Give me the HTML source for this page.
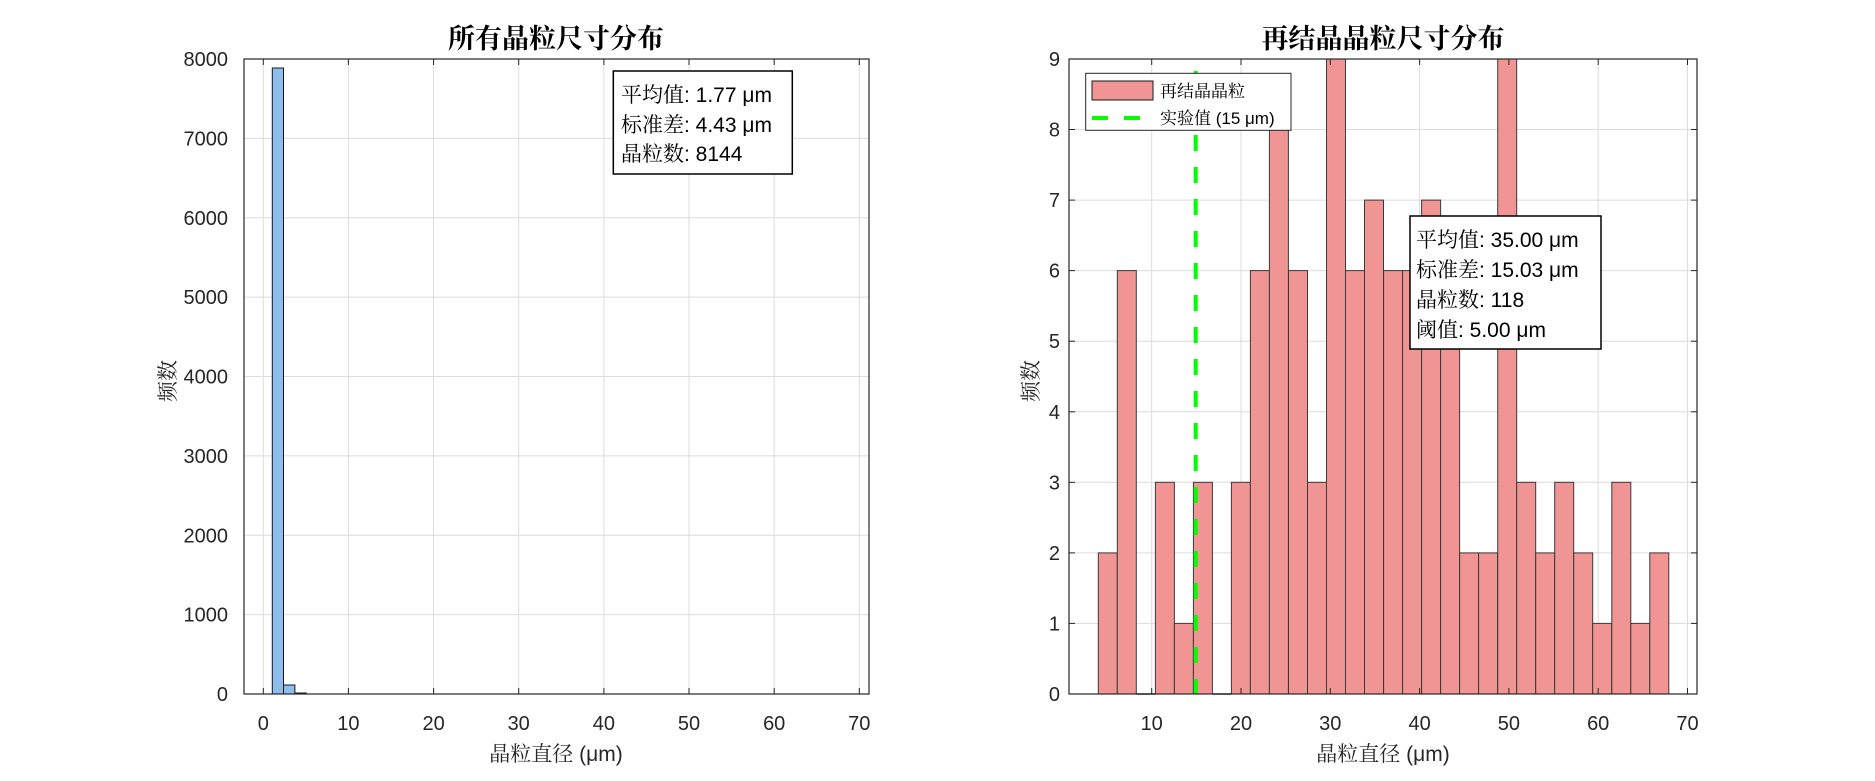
<!DOCTYPE html>
<html><head><meta charset="utf-8"><style>
html,body{margin:0;padding:0;background:#fff;}
svg{display:block;}
text{font-family:"Liberation Sans","Noto Sans CJK SC",sans-serif;fill:#262626;}
.t{font-family:"Liberation Serif","Noto Serif CJK SC",serif;font-weight:bold;fill:#000;font-size:27px;}
.tk{font-size:20px;}
.lb{font-size:21px;font-family:"Liberation Sans","Noto Serif CJK SC",serif;}
.bx{font-size:21px;fill:#000;font-family:"Liberation Sans","Noto Serif CJK SC",serif;}
.lg{font-size:17px;font-family:"Liberation Sans","Noto Serif CJK SC",serif;fill:#000;}
</style></head><body>
<svg width="1875" height="781" viewBox="0 0 1875 781" xmlns="http://www.w3.org/2000/svg">
<rect width="1875" height="781" fill="#fff"/>
<!-- LEFT -->
<g stroke="#dcdcdc" stroke-width="1">
<line x1="263.3" y1="59" x2="263.3" y2="694"/><line x1="348.4" y1="59" x2="348.4" y2="694"/><line x1="433.6" y1="59" x2="433.6" y2="694"/><line x1="518.7" y1="59" x2="518.7" y2="694"/><line x1="603.9" y1="59" x2="603.9" y2="694"/><line x1="689" y1="59" x2="689" y2="694"/><line x1="774.2" y1="59" x2="774.2" y2="694"/><line x1="859.3" y1="59" x2="859.3" y2="694"/>
<line x1="244" y1="614.6" x2="869" y2="614.6"/><line x1="244" y1="535.3" x2="869" y2="535.3"/><line x1="244" y1="455.9" x2="869" y2="455.9"/><line x1="244" y1="376.5" x2="869" y2="376.5"/><line x1="244" y1="297.1" x2="869" y2="297.1"/><line x1="244" y1="217.8" x2="869" y2="217.8"/><line x1="244" y1="138.4" x2="869" y2="138.4"/>
</g>
<g fill="#8fbdec" stroke="#1a1a1a" stroke-width="1">
<rect x="272.3" y="68" width="11.2" height="626"/>
<rect x="283.5" y="685" width="11.4" height="9"/>
<rect x="294.9" y="693" width="11.4" height="1"/>
</g>
<g stroke="#555" stroke-width="1"><line x1="306" y1="694" x2="840" y2="694"/></g>
<rect x="244" y="59" width="625" height="635" fill="none" stroke="#262626" stroke-width="1.2"/>
<g stroke="#262626" stroke-width="1">
<line x1="263.3" y1="694" x2="263.3" y2="688"/><line x1="348.4" y1="694" x2="348.4" y2="688"/><line x1="433.6" y1="694" x2="433.6" y2="688"/><line x1="518.7" y1="694" x2="518.7" y2="688"/><line x1="603.9" y1="694" x2="603.9" y2="688"/><line x1="689" y1="694" x2="689" y2="688"/><line x1="774.2" y1="694" x2="774.2" y2="688"/><line x1="859.3" y1="694" x2="859.3" y2="688"/>
<line x1="263.3" y1="59" x2="263.3" y2="65"/><line x1="348.4" y1="59" x2="348.4" y2="65"/><line x1="433.6" y1="59" x2="433.6" y2="65"/><line x1="518.7" y1="59" x2="518.7" y2="65"/><line x1="603.9" y1="59" x2="603.9" y2="65"/><line x1="689" y1="59" x2="689" y2="65"/><line x1="774.2" y1="59" x2="774.2" y2="65"/><line x1="859.3" y1="59" x2="859.3" y2="65"/>
</g>
<g class="tk" text-anchor="end">
<text x="228" y="701">0</text><text x="228" y="621.6">1000</text><text x="228" y="542.3">2000</text><text x="228" y="462.9">3000</text><text x="228" y="383.5">4000</text><text x="228" y="304.1">5000</text><text x="228" y="224.8">6000</text><text x="228" y="145.4">7000</text><text x="228" y="66">8000</text>
</g>
<g class="tk" text-anchor="middle">
<text x="263.3" y="730">0</text><text x="348.4" y="730">10</text><text x="433.6" y="730">20</text><text x="518.7" y="730">30</text><text x="603.9" y="730">40</text><text x="689" y="730">50</text><text x="774.2" y="730">60</text><text x="859.3" y="730">70</text>
</g>
<text class="lb" x="556" y="761" text-anchor="middle">晶粒直径 (μm)</text>
<text class="lb" transform="translate(175,381) rotate(-90)" text-anchor="middle">频数</text>
<text class="t" x="556" y="48" text-anchor="middle">所有晶粒尺寸分布</text>
<rect x="613.3" y="71" width="179" height="103" fill="#fff" stroke="#000" stroke-width="1.5"/>
<text class="bx" x="621" y="102">平均值: 1.77 μm</text>
<text class="bx" x="621" y="132">标准差: 4.43 μm</text>
<text class="bx" x="621" y="161">晶粒数: 8144</text>

<!-- RIGHT -->
<g stroke="#dcdcdc" stroke-width="1">
<line x1="1151.7" y1="59" x2="1151.7" y2="694"/><line x1="1241" y1="59" x2="1241" y2="694"/><line x1="1330.3" y1="59" x2="1330.3" y2="694"/><line x1="1419.6" y1="59" x2="1419.6" y2="694"/><line x1="1508.9" y1="59" x2="1508.9" y2="694"/><line x1="1598.2" y1="59" x2="1598.2" y2="694"/><line x1="1687.5" y1="59" x2="1687.5" y2="694"/>
<line x1="1069" y1="623.4" x2="1697" y2="623.4"/><line x1="1069" y1="552.9" x2="1697" y2="552.9"/><line x1="1069" y1="482.3" x2="1697" y2="482.3"/><line x1="1069" y1="411.8" x2="1697" y2="411.8"/><line x1="1069" y1="341.2" x2="1697" y2="341.2"/><line x1="1069" y1="270.6" x2="1697" y2="270.6"/><line x1="1069" y1="200.1" x2="1697" y2="200.1"/><line x1="1069" y1="129.5" x2="1697" y2="129.5"/>
</g>
<g fill="#f09593" stroke="#3a3a3a" stroke-width="1">
<rect x="1098.3" y="552.9" width="19" height="141.1"/>
<rect x="1117.3" y="270.6" width="19" height="423.4"/>
<rect x="1155.4" y="482.3" width="19" height="211.7"/>
<rect x="1174.4" y="623.4" width="19" height="70.6"/>
<rect x="1193.4" y="482.3" width="19" height="211.7"/>
<rect x="1231.4" y="482.3" width="19" height="211.7"/>
<rect x="1250.4" y="270.6" width="19" height="423.4"/>
<rect x="1269.4" y="129.5" width="19" height="564.5"/>
<rect x="1288.5" y="270.6" width="19" height="423.4"/>
<rect x="1307.5" y="482.3" width="19" height="211.7"/>
<rect x="1326.5" y="59" width="19" height="635"/>
<rect x="1345.5" y="270.6" width="19" height="423.4"/>
<rect x="1364.5" y="200.1" width="19" height="493.9"/>
<rect x="1383.6" y="270.6" width="19" height="423.4"/>
<rect x="1402.6" y="270.6" width="19" height="423.4"/>
<rect x="1421.6" y="200.1" width="19" height="493.9"/>
<rect x="1440.6" y="270.6" width="19" height="423.4"/>
<rect x="1459.6" y="552.9" width="19" height="141.1"/>
<rect x="1478.6" y="552.9" width="19" height="141.1"/>
<rect x="1497.7" y="59" width="19" height="635"/>
<rect x="1516.7" y="482.3" width="19" height="211.7"/>
<rect x="1535.7" y="552.9" width="19" height="141.1"/>
<rect x="1554.7" y="482.3" width="19" height="211.7"/>
<rect x="1573.7" y="552.9" width="19" height="141.1"/>
<rect x="1592.7" y="623.4" width="19" height="70.6"/>
<rect x="1611.8" y="482.3" width="19" height="211.7"/>
<rect x="1630.8" y="623.4" width="19" height="70.6"/>
<rect x="1649.8" y="552.9" width="19" height="141.1"/>
</g>
<line x1="1136.3" y1="694" x2="1155.4" y2="694" stroke="#333" stroke-width="1.5"/>
<line x1="1212.4" y1="694" x2="1231.4" y2="694" stroke="#333" stroke-width="1.5"/>
<line x1="1195.7" y1="71" x2="1195.7" y2="694" stroke="#00ff00" stroke-width="4" stroke-dasharray="16,16"/>
<rect x="1069" y="59" width="628" height="635" fill="none" stroke="#262626" stroke-width="1.2"/>
<g stroke="#262626" stroke-width="1">
<line x1="1151.7" y1="694" x2="1151.7" y2="688"/><line x1="1241" y1="694" x2="1241" y2="688"/><line x1="1330.3" y1="694" x2="1330.3" y2="688"/><line x1="1419.6" y1="694" x2="1419.6" y2="688"/><line x1="1508.9" y1="694" x2="1508.9" y2="688"/><line x1="1598.2" y1="694" x2="1598.2" y2="688"/><line x1="1687.5" y1="694" x2="1687.5" y2="688"/>
<line x1="1151.7" y1="59" x2="1151.7" y2="65"/><line x1="1241" y1="59" x2="1241" y2="65"/><line x1="1330.3" y1="59" x2="1330.3" y2="65"/><line x1="1419.6" y1="59" x2="1419.6" y2="65"/><line x1="1508.9" y1="59" x2="1508.9" y2="65"/><line x1="1598.2" y1="59" x2="1598.2" y2="65"/><line x1="1687.5" y1="59" x2="1687.5" y2="65"/>
<line x1="1069" y1="623.4" x2="1075" y2="623.4"/><line x1="1069" y1="552.9" x2="1075" y2="552.9"/><line x1="1069" y1="482.3" x2="1075" y2="482.3"/><line x1="1069" y1="411.8" x2="1075" y2="411.8"/><line x1="1069" y1="341.2" x2="1075" y2="341.2"/><line x1="1069" y1="270.6" x2="1075" y2="270.6"/><line x1="1069" y1="200.1" x2="1075" y2="200.1"/><line x1="1069" y1="129.5" x2="1075" y2="129.5"/>
<line x1="1697" y1="623.4" x2="1691" y2="623.4"/><line x1="1697" y1="552.9" x2="1691" y2="552.9"/><line x1="1697" y1="482.3" x2="1691" y2="482.3"/><line x1="1697" y1="411.8" x2="1691" y2="411.8"/><line x1="1697" y1="341.2" x2="1691" y2="341.2"/><line x1="1697" y1="270.6" x2="1691" y2="270.6"/><line x1="1697" y1="200.1" x2="1691" y2="200.1"/><line x1="1697" y1="129.5" x2="1691" y2="129.5"/>
</g>
<g class="tk" text-anchor="end">
<text x="1060" y="701">0</text><text x="1060" y="630.4">1</text><text x="1060" y="559.9">2</text><text x="1060" y="489.3">3</text><text x="1060" y="418.8">4</text><text x="1060" y="348.2">5</text><text x="1060" y="277.6">6</text><text x="1060" y="207.1">7</text><text x="1060" y="136.5">8</text><text x="1060" y="66">9</text>
</g>
<g class="tk" text-anchor="middle">
<text x="1151.7" y="730">10</text><text x="1241" y="730">20</text><text x="1330.3" y="730">30</text><text x="1419.6" y="730">40</text><text x="1508.9" y="730">50</text><text x="1598.2" y="730">60</text><text x="1687.5" y="730">70</text>
</g>
<text class="lb" x="1383" y="761" text-anchor="middle">晶粒直径 (μm)</text>
<text class="lb" transform="translate(1038,381) rotate(-90)" text-anchor="middle">频数</text>
<text class="t" x="1383" y="48" text-anchor="middle">再结晶晶粒尺寸分布</text>
<!-- legend -->
<rect x="1085.7" y="73.3" width="205.3" height="57" fill="#fff" stroke="#262626" stroke-width="1"/>
<rect x="1092" y="81" width="61" height="19" fill="#f09593" stroke="#1a1a1a" stroke-width="1"/>
<line x1="1092" y1="118" x2="1153" y2="118" stroke="#00ff00" stroke-width="4" stroke-dasharray="16,16"/>
<text class="lg" x="1160" y="97">再结晶晶粒</text>
<text class="lg" x="1160" y="124">实验值 (15 μm)</text>
<!-- stats box -->
<rect x="1410" y="216" width="191" height="133" fill="#fff" stroke="#000" stroke-width="1.5"/>
<text class="bx" x="1416" y="247">平均值: 35.00 μm</text>
<text class="bx" x="1416" y="277">标准差: 15.03 μm</text>
<text class="bx" x="1416" y="307">晶粒数: 118</text>
<text class="bx" x="1416" y="337">阈值: 5.00 μm</text>
</svg>
</body></html>
